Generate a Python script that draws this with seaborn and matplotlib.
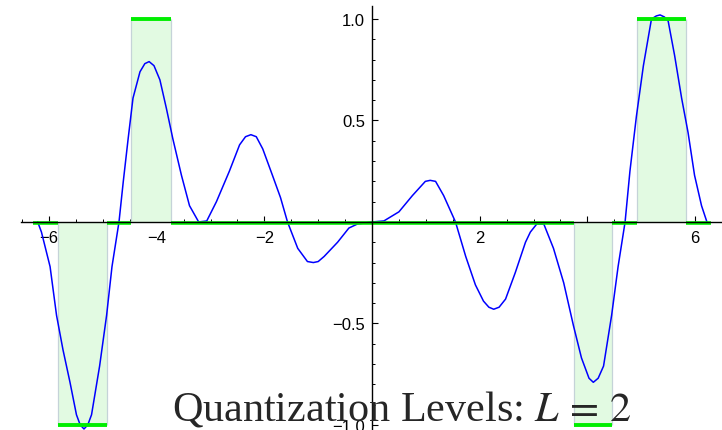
import numpy as np
import pandas as pd
import matplotlib
matplotlib.use("Agg")
import matplotlib.pyplot as plt
import matplotlib.transforms as mtransforms
import seaborn as sns

# signal
curve_x = [-6.21, -6.14, -5.98, -5.86, -5.74, -5.61, -5.49, -5.42, -5.35, -5.28,
           -5.21, -5.06, -4.93, -4.83, -4.70, -4.62, -4.53, -4.44, -4.31, -4.22,
           -4.14, -4.05, -3.94, -3.82, -3.70, -3.54, -3.39, -3.22, -3.07, -2.89,
           -2.65, -2.46, -2.35, -2.25, -2.15, -2.03, -1.85, -1.70, -1.57, -1.38,
           -1.20, -1.09, -1.00, -0.89, -0.64, -0.43, -0.27, 0.0, 0.22, 0.50,
           0.75, 0.99, 1.08, 1.18, 1.33, 1.55, 1.74, 1.92, 2.07, 2.17,
           2.26, 2.36, 2.48, 2.66, 2.85, 2.94, 3.06, 3.19, 3.37, 3.56,
           3.74, 3.89, 4.03, 4.11, 4.20, 4.30, 4.45, 4.57, 4.70, 4.79,
           4.91, 5.04, 5.19, 5.28, 5.35, 5.43, 5.50, 5.62, 5.75, 5.87,
           5.99, 6.12, 6.22]
curve_y = [0.0, -0.05, -0.22, -0.46, -0.63, -0.79, -0.95, -1.0, -1.02, -1.0,
           -0.95, -0.71, -0.46, -0.22, 0.0, 0.20, 0.41, 0.61, 0.74, 0.78,
           0.79, 0.77, 0.70, 0.56, 0.41, 0.23, 0.08, 0.0, 0.005, 0.10,
           0.25, 0.38, 0.42, 0.43, 0.42, 0.36, 0.23, 0.12, 0.0, -0.13,
           -0.195, -0.20, -0.195, -0.17, -0.10, -0.03, -0.01, 0.0, 0.005, 0.05,
           0.13, 0.20, 0.205, 0.20, 0.13, 0.0, -0.17, -0.31, -0.39, -0.42,
           -0.43, -0.42, -0.38, -0.25, -0.10, -0.05, -0.01, -0.01, -0.13, -0.30,
           -0.51, -0.67, -0.77, -0.79, -0.77, -0.71, -0.46, -0.22, 0.0, 0.25,
           0.52, 0.77, 1.0, 1.015, 1.02, 1.01, 0.99, 0.82, 0.61, 0.44,
           0.23, 0.08, 0.0]

# quantized output (L = 2): segment start, end and level
level_x0 = [-6.30, -5.83, -4.92, -4.48, -3.74, 3.75, 4.46, 4.93, 5.83]
level_x1 = [-5.83, -4.92, -4.48, -3.74, 3.75, 4.46, 4.93, 5.83, 6.30]
level_val = [0, -1, 0, 1, 0, -1, 0, 1, 0]

x_major = [-6, -4, -2, 2, 4, 6]
x_labels = ["\u22126", "\u22124", "\u22122", "2", "4", "6"]
y_major = [-1.0, -0.5, 0.5, 1.0]
y_labels = ["\u22121.0", "\u22120.5", "0.5", "1.0"]

sns.set_style("white")
plt.rcParams["font.family"] = ["Liberation Sans", "DejaVu Sans"]
plt.rcParams["mathtext.fontset"] = "stix"

df = pd.DataFrame({"x": curve_x, "y": curve_y})
lv = pd.DataFrame({"x0": level_x0, "x1": level_x1, "v": level_val})

fig = plt.figure(figsize=(7.22, 4.31), dpi=100)
ax = fig.add_axes([21 / 722, 0, 701 / 722, 424 / 431])
ax.set_xlim(-6.52, 6.46)
ax.set_ylim(-1.025, 1.064)

# shaded regions where the level is non-zero
nz = lv[lv["v"] != 0]
for _, r in nz.iterrows():
    ax.fill_between([r.x0, r.x1], [0, 0], [r.v, r.v], color="#e2fae2",
                    lw=0, zorder=1)
    ax.vlines([r.x0, r.x1], 0, r.v, color="#c5d3d8", lw=0.9, zorder=1.1)

sns.lineplot(data=df, x="x", y="y", color="#0000ff", lw=1.1,
             estimator=None, ax=ax, zorder=1.8)

# levels; the zero level sits just under the axis line
z = lv[lv["v"] == 0]
ax.hlines(nz["v"], nz["x0"], nz["x1"], color="#00ee00", lw=2.8, zorder=2)
below = mtransforms.offset_copy(ax.transData, fig=fig, y=-1.5, units="dots")
ax.hlines(z["v"], z["x0"], z["x1"], color="#00ee00", lw=2.6, zorder=2,
          transform=below)

# Mathematica-style axes through the origin
for s in ["top", "right"]:
    ax.spines[s].set_visible(False)
ax.spines["left"].set_position(("data", 0))
ax.spines["bottom"].set_position(("data", 0))
for s in ["left", "bottom"]:
    ax.spines[s].set_color("black")
    ax.spines[s].set_linewidth(1.0)
    ax.spines[s].set_zorder(3)

ax.set_xticks(x_major)
ax.set_xticklabels(x_labels)
ax.set_yticks(y_major)
ax.set_yticklabels(y_labels)
ax.set_xticks([v for v in np.arange(-6.5, 6.51, 0.5) if v not in x_major and v != 0],
              minor=True)
ax.set_yticks([v for v in np.arange(-1.0, 1.01, 0.1)
               if abs(v) > 1e-9 and min(abs(v - t) for t in y_major) > 1e-9],
              minor=True)
ax.tick_params(which="both", bottom=True, left=True, top=False, right=False)
ax.tick_params(which="major", direction="in", length=4.5, width=0.8,
               labelsize=12, colors="black", pad=6)
ax.tick_params(which="minor", direction="in", length=2.5, width=0.7,
               colors="black")
ax.tick_params(axis="y", pad=5)
ax.set_xlabel("")
ax.set_ylabel("")

fig.text(0.556, 0.0255, r"Quantization Levels: $L\,=\,2$", fontsize=30.3,
         family="Liberation Serif", ha="center", va="baseline", zorder=5)

fig.savefig("out.png", dpi=100)
